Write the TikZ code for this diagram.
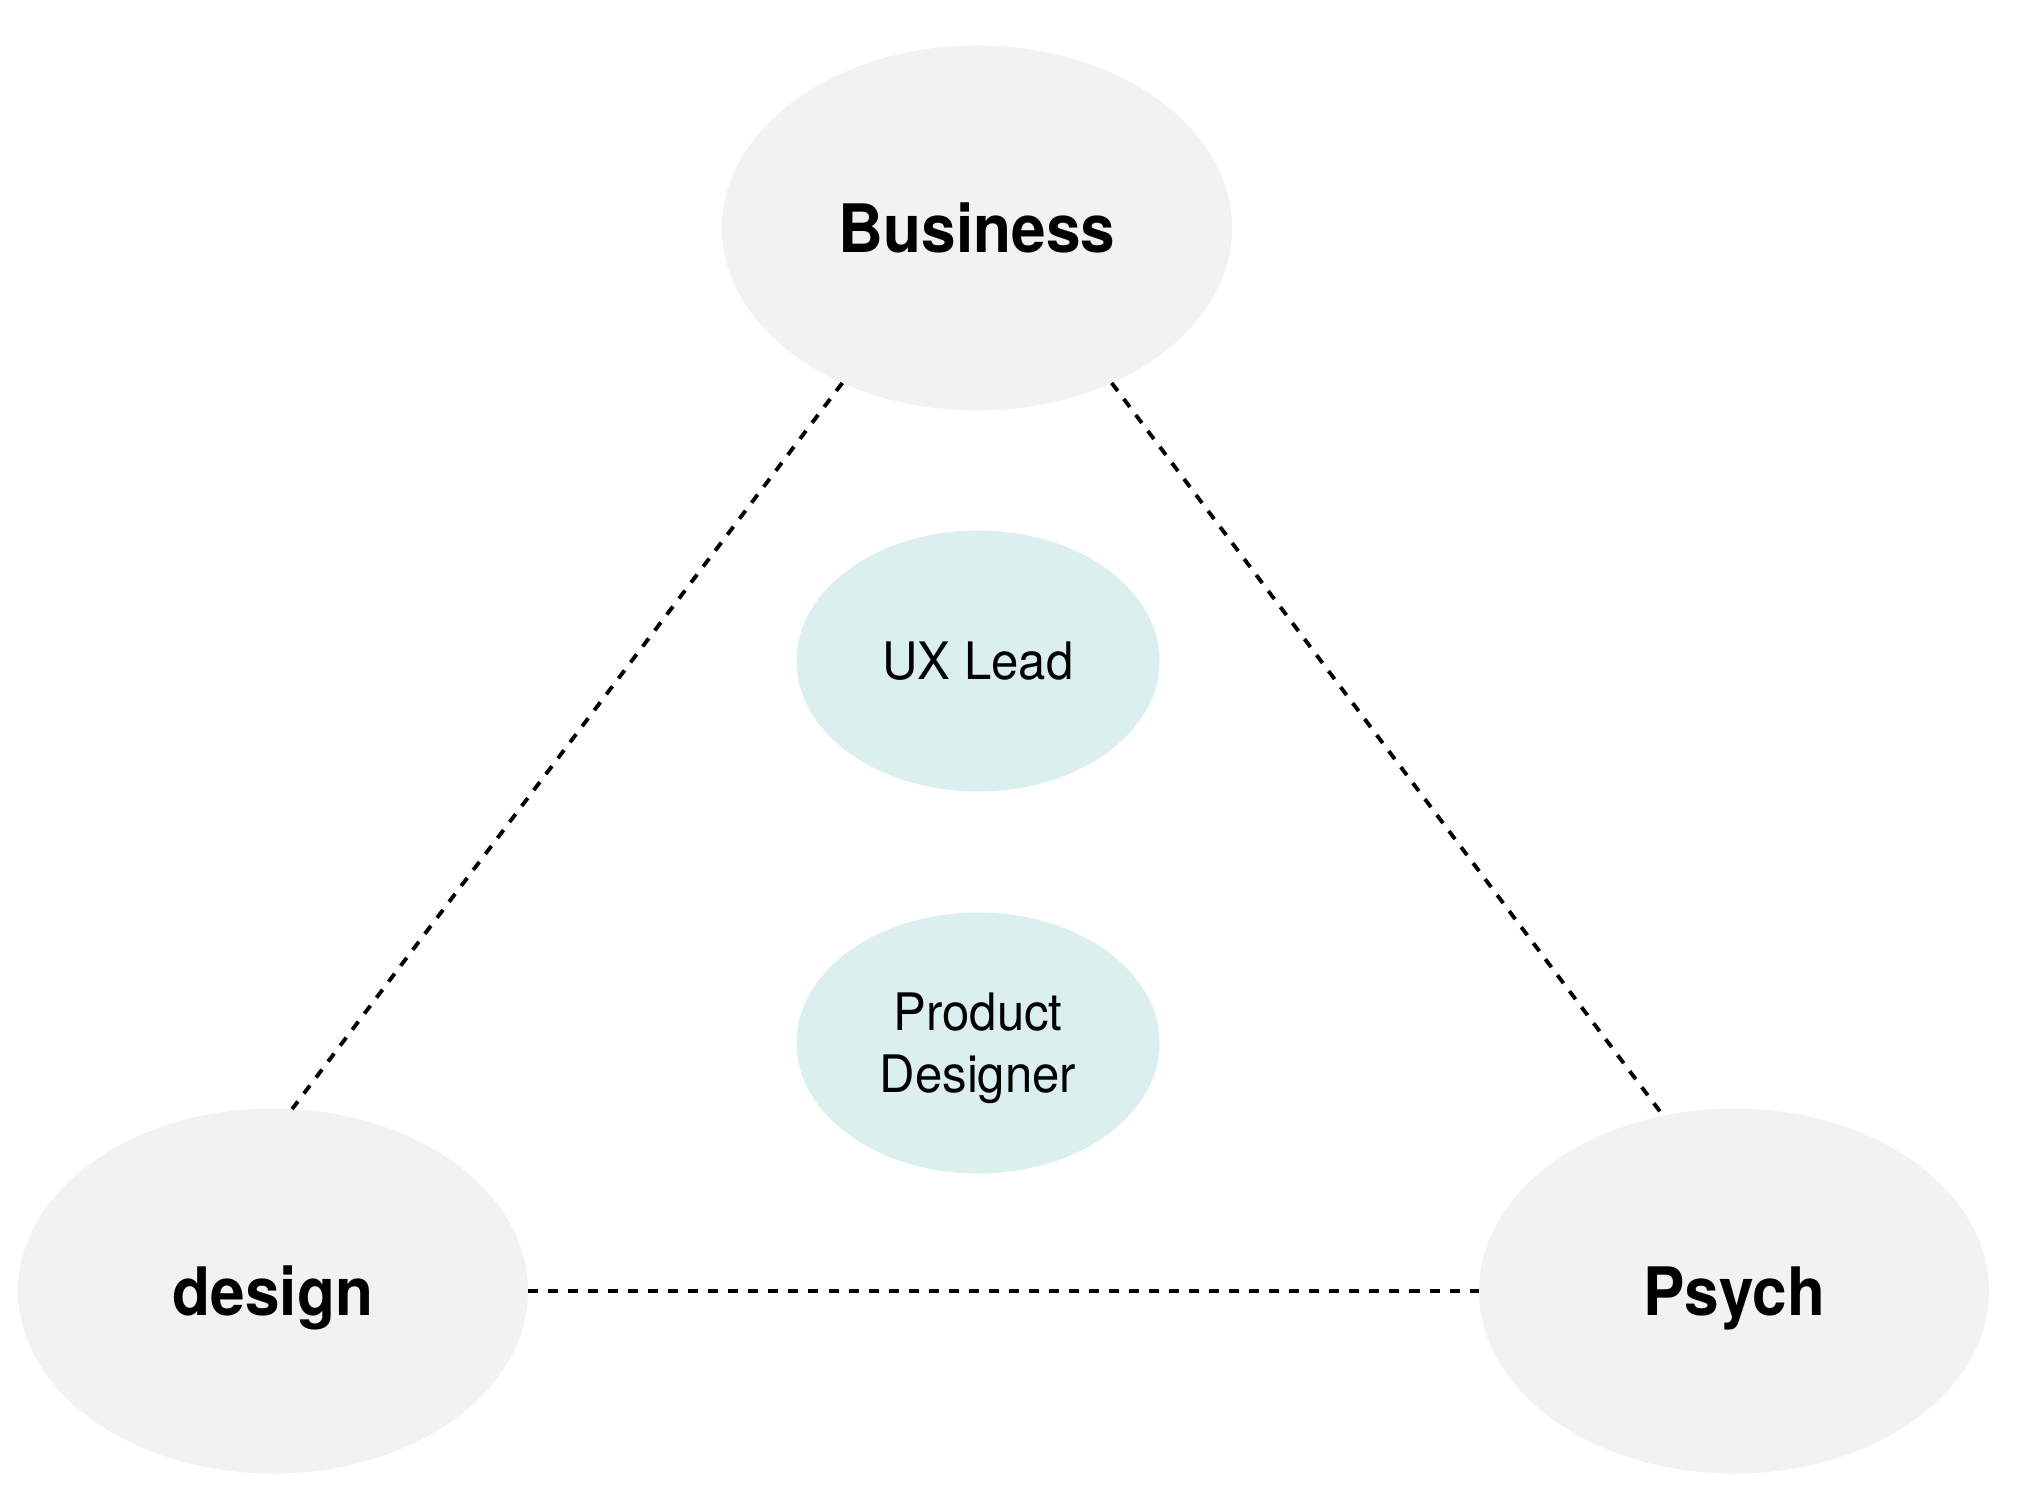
\documentclass[tikz,border=0pt]{standalone}
\usepackage{fontspec}
\setmainfont[FakeStretch=0.93]{TeX Gyre Heros}
\newfontfamily\rolefont[FakeStretch=0.95]{TeX Gyre Heros}
\usepackage{tikz}
\usetikzlibrary{shapes.geometric}

\definecolor{fieldgray}{HTML}{F2F2F2}
\definecolor{roleteal}{HTML}{DBF0EE}

\begin{document}
\begin{tikzpicture}[
    field/.style={ellipse, fill=fieldgray, inner sep=0pt, outer sep=0pt,
        minimum width=5.1cm, minimum height=3.65cm, text depth=0pt,
        font=\fontsize{19}{23}\selectfont\bfseries},
    role/.style={ellipse, fill=roleteal, inner sep=0pt, outer sep=0pt,
        minimum width=3.63cm, minimum height=2.61cm, text depth=0pt, align=center,
        font=\rolefont\fontsize{14.7}{17.6}\selectfont},
    link/.style={line width=1.1pt, dash pattern=on 2.85pt off 2.85pt}
]
            \useasboundingbox[fill=white] (0,0) rectangle (20.36,-15.02);

            \node[field] (business) at (9.77,-2.28) {Business};
            \node[field] (design) at (2.73,-12.91) {design};
            \node[field] (psych) at (17.34,-12.91) {Psych};

            \node[role] (uxlead) at (9.78,-6.61) {UX Lead};
            \node[role] (prodesigner) at (9.78,-10.43) {Product\\Designer};

            \draw[link] (business.229)--(design.84);
            \draw[link] (business.311)--(psych.112);
            \draw[link] (design.east)--(psych.west);
        \end{tikzpicture}
\end{document}
